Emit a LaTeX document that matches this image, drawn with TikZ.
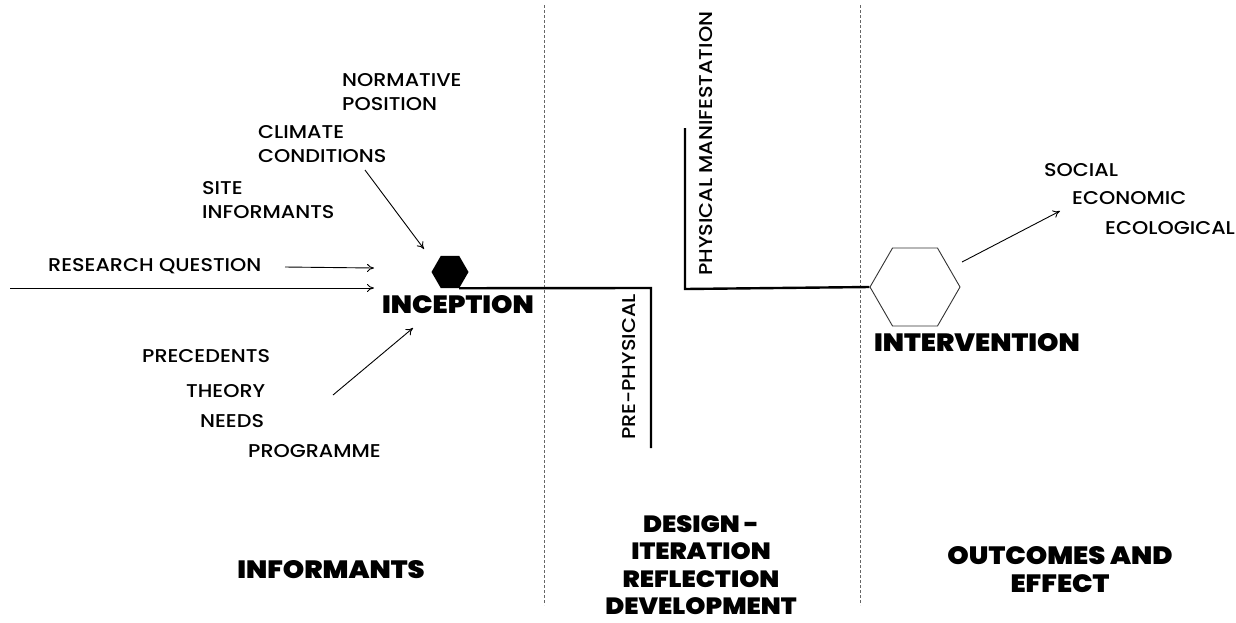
\documentclass[tikz,border=0pt]{standalone}
\usepackage{fontspec}
\setmainfont{Poppins Medium}[FakeStretch=1.12]
\newfontfamily\heavy{Poppins Black}[FakeStretch=1.09]
\usetikzlibrary{shapes.geometric,arrows.meta}
\begin{document}
\begin{tikzpicture}[x=1pt,y=-1pt,
  lbl/.style={font=\fontsize{18.5}{22}\selectfont,inner sep=0pt,anchor=west},
  head/.style={font=\heavy\fontsize{25}{28}\selectfont,inner sep=0pt,align=center},
  divider/.style={densely dashed,line width=0.8pt,gray!80!black},
  track/.style={line width=2.4pt,line cap=butt},
  feed/.style={line width=0.9pt,-{To[length=7pt,width=8pt]}},
  hexa/.style={regular polygon,regular polygon sides=6,inner sep=0pt}]
\useasboundingbox (0,0) rectangle (1236,622);

% column dividers
\draw[divider] (544,5) -- (544,605);
\draw[divider] (860,5) -- (860,605);

% milestones
\node[hexa,fill=black,minimum size=37pt] (inc) at (450,272) {};
\node[hexa,draw=black!80,line width=0.9pt,minimum size=90pt] (int) at (915,287) {};
\node[head] (incl) at (458,305) {INCEPTION};
\node[head] (intl) at (977,343) {INTERVENTION};

% design track
\coordinate (pre1) at (651,288);
\coordinate (pre2) at (651,448);
\coordinate (phy1) at (685,289);
\coordinate (phy2) at (685,128);
\draw[track] ([xshift=9pt]inc.south) -- (pre1) -- (pre2);
\draw[track] (phy2) -- (phy1) -- (int.west);
\node[lbl,rotate=90] (prel) at (629,440) {PRE-PHYSICAL};
\node[lbl,rotate=90] (phyl) at (706,276) {PHYSICAL MANIFESTATION};

% informants
\node[lbl] (norm) at (342,80) {NORMATIVE};
\node[lbl] (pos) at (342,104) {POSITION};
\node[lbl] (clim) at (258,132) {CLIMATE};
\node[lbl] (cond) at (258,156) {CONDITIONS};
\node[lbl] (site) at (202,188) {SITE};
\node[lbl] (sinf) at (202,212) {INFORMANTS};
\node[lbl] (rq) at (48,266) {RESEARCH QUESTION};
\node[lbl] (prec) at (142,356) {PRECEDENTS};
\node[lbl] (theo) at (186,391) {THEORY};
\node[lbl] (need) at (200,421) {NEEDS};
\node[lbl] (prog) at (248,451) {PROGRAMME};

\coordinate (a1s) at (365,170); \coordinate (a1e) at (424,249);
\coordinate (a2s) at (285,267); \coordinate (a2e) at (374,268);
\coordinate (a3s) at (10,288);  \coordinate (a3e) at (374,288);
\coordinate (a4s) at (333,395); \coordinate (a4e) at (413,328);
\draw[feed] (a1s) -- (a1e);
\draw[feed] (a2s) -- (a2e);
\draw[feed] (a3s) -- (a3e);
\draw[feed] (a4s) -- (a4e);

% outcomes
\node[lbl] (soc) at (1044,170) {SOCIAL};
\node[lbl] (eco) at (1072,198) {ECONOMIC};
\node[lbl] (ecl) at (1105,228) {ECOLOGICAL};
\coordinate (o1s) at (962,262); \coordinate (o1e) at (1060,211);
\draw[feed] (o1s) -- (o1e);

% column headings
\node[head] (hinf) at (331,570) {INFORMANTS};
\node[head,font=\heavy\fontsize{23.5}{27.5}\selectfont] (hdes) at (701,565) {DESIGN -\\ITERATION\\REFLECTION\\DEVELOPMENT};
\node[head] (hout) at (1060,570) {OUTCOMES AND\\EFFECT};
\end{tikzpicture}
\end{document}
